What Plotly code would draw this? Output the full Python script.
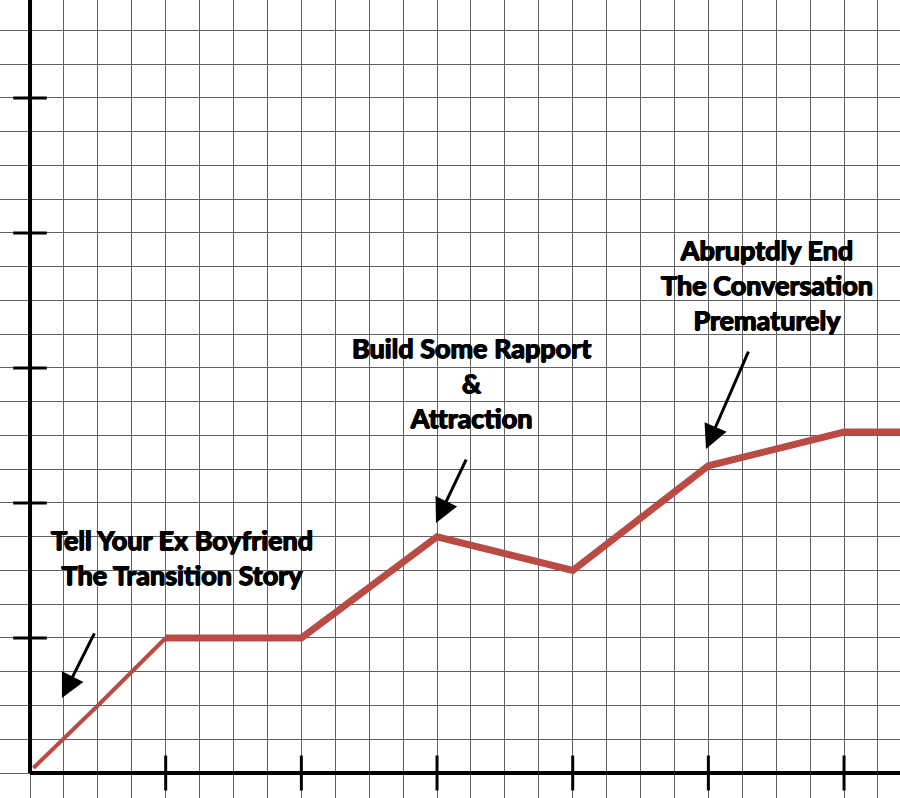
import plotly.graph_objects as go

# Data (grid units)
ramp_x = [0.1, 2.0, 4.0]
ramp_y = [0.15, 2.0, 4.0]
main_x = [4.0, 8.0, 12.0, 16.0, 20.0, 24.0, 25.8]
main_y = [4.0, 4.0, 7.0, 6.0, 9.1, 10.1, 10.1]

xtick_vals = [4, 8, 12, 16, 20, 24]
ytick_vals = [4, 8, 12, 16, 20]

labels = [
    "Tell Your Ex Boyfriend<br>The Transition Story",
    "Build Some Rapport<br>&<br>Attraction",
    "Abruptdly End<br>The Conversation<br>Prematurely",
]
label_x = [4.48, 13.03, 21.73]
label_y = [6.40, 11.56, 14.46]

arrow_head_x = [0.94, 11.97, 19.93]
arrow_head_y = [2.22, 7.41, 9.60]
arrow_tail_x = [1.92, 12.88, 21.2]
arrow_tail_y = [4.18, 9.33, 12.53]

X_RANGE = [-0.885, 25.65]
Y_RANGE = [-0.74, 22.9]

RED = "#b94a44"
FONT = "Lato, Liberation Sans Narrow, DejaVu Sans Condensed, sans-serif"

fig = go.Figure()

fig.add_trace(go.Scatter(x=ramp_x, y=ramp_y, mode="lines",
                         line=dict(color=RED, width=4), hoverinfo="skip"))
fig.add_trace(go.Scatter(x=main_x, y=main_y, mode="lines",
                         line=dict(color=RED, width=7, shape="linear"), hoverinfo="skip"))

# axis lines
fig.add_shape(type="line", x0=0, x1=0, y0=0, y1=30, line=dict(color="black", width=4), layer="above")
fig.add_shape(type="line", x0=0, x1=30, y0=0, y1=0, line=dict(color="black", width=4), layer="above")

# tick marks
fig.add_trace(go.Scatter(x=xtick_vals, y=[0] * len(xtick_vals), mode="markers",
                         marker=dict(symbol="line-ns", size=25, line=dict(color="black", width=3)),
                         hoverinfo="skip", cliponaxis=False))
fig.add_trace(go.Scatter(x=[0] * len(ytick_vals), y=ytick_vals, mode="markers",
                         marker=dict(symbol="line-ew", size=24, line=dict(color="black", width=3)),
                         hoverinfo="skip", cliponaxis=False))

for t, x, y in zip(labels, label_x, label_y):
    fig.add_annotation(x=x, y=y, text="<b>" + t + "</b>", showarrow=False,
                       font=dict(family=FONT, size=27, color="black", weight=900,
                                 shadow="0.7px 0 0 black, -0.7px 0 0 black, 0 0.5px 0 black"),
                       xanchor="center", yanchor="middle", align="center")

for hx, hy, tx, ty in zip(arrow_head_x, arrow_head_y, arrow_tail_x, arrow_tail_y):
    fig.add_annotation(x=hx, y=hy, ax=tx, ay=ty, xref="x", yref="y", axref="x", ayref="y",
                       text="", showarrow=True, arrowhead=2, arrowsize=1.6, arrowwidth=3,
                       arrowcolor="black", standoff=0, startstandoff=0)

fig.update_layout(
    width=900, height=798,
    margin=dict(l=0, r=0, t=0, b=0, pad=0, autoexpand=False),
    paper_bgcolor="white", plot_bgcolor="white",
    showlegend=False,
    xaxis=dict(range=X_RANGE, dtick=1, tick0=0, showgrid=True, gridcolor="#626262",
               gridwidth=1, zeroline=False, showticklabels=False, ticks="", showline=False,
               fixedrange=True, automargin=False),
    yaxis=dict(range=Y_RANGE, dtick=1, tick0=0, showgrid=True, gridcolor="#626262",
               gridwidth=1, zeroline=False, showticklabels=False, ticks="", showline=False,
               fixedrange=True, automargin=False),
)

fig.write_html("out.html", config={"displayModeBar": False},
               post_script="document.body.style.margin='0';document.body.style.padding='0';")
